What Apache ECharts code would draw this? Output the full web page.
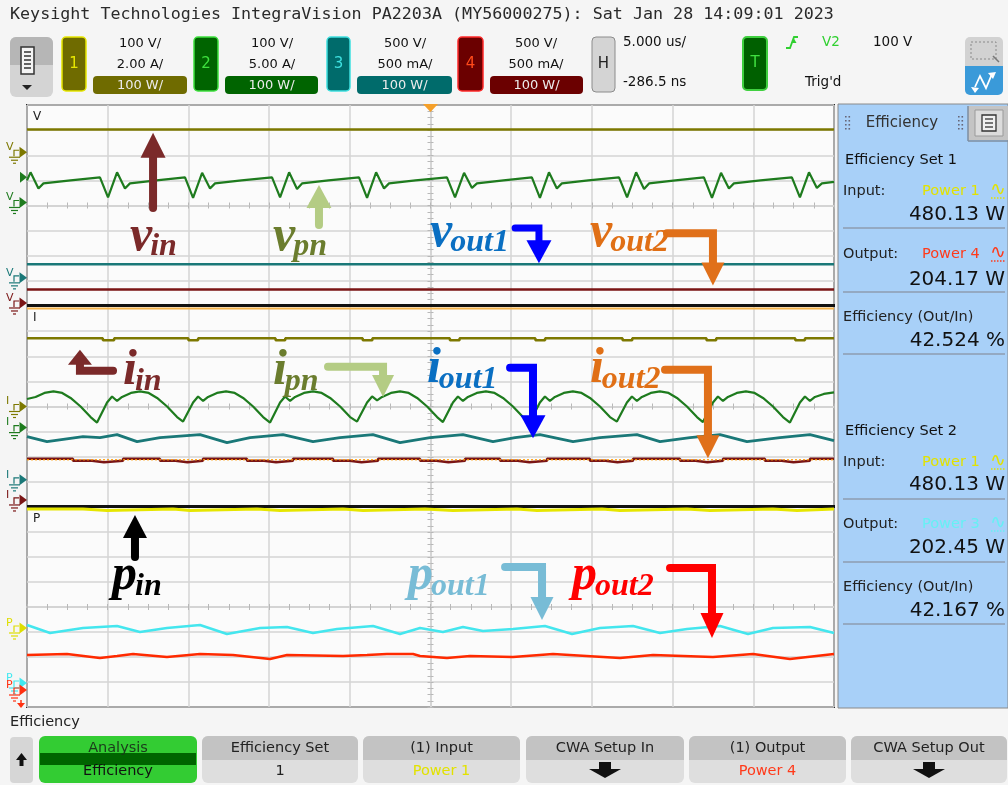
<!DOCTYPE html>
<html><head><meta charset="utf-8"><title>Efficiency</title>
<script src="https://cdn.jsdelivr.net/npm/echarts@6.0.0/dist/echarts.min.js"></script>
<style>html,body{margin:0;padding:0;background:#f5f5f5;overflow:hidden}#c{width:1008px;height:785px}</style>
</head><body><div id="c"></div>
<script>
// ---------------- DATA (time in µs over 10 div of 5 µs; amplitude in screen divisions) ----------------
const vinV  = [[0,3.02],[50,3.02]];
const vpnV  = [[0,1.0],[0.22,1.32],[0.71,0.68],[1.02,0.88],[2.7,1.0],
 [4.52,1.12],[5.02,0.32],[5.58,1.32],[6.07,0.68],[6.38,0.88],[8.02,1.0],
 [9.79,1.12],[10.29,0.3],[10.85,1.3],[11.34,0.68],[11.65,0.88],[13.29,1.0],
 [15.18,1.12],[15.68,0.32],[16.24,1.32],[16.73,0.66],[17.04,0.88],[18.68,1.0],
 [20.57,1.12],[21.07,0.3],[21.63,1.32],[22.12,0.68],[22.43,0.88],[24.07,1.0],
 [26.02,1.12],[26.52,0.32],[27.08,1.3],[27.57,0.7],[27.88,0.88],[29.52,1.0],
 [31.28,1.12],[31.78,0.3],[32.34,1.32],[32.83,0.68],[33.14,0.88],[34.78,1.0],
 [36.68,1.12],[37.18,0.32],[37.74,1.32],[38.23,0.66],[38.54,0.88],[40.18,1.0],
 [41.94,1.12],[42.44,0.3],[43.0,1.3],[43.49,0.68],[43.8,0.88],[45.44,1.0],
 [47.39,1.12],[47.89,0.32],[48.45,1.32],[48.94,0.7],[49.25,0.88],[50,0.94]];
const vout1V = [[0,-2.34],[50,-2.34]];
const vout2V = [[0,-3.34],[50,-3.34]];

const iTopI = [[0,3.9],[50,3.9]];
const iinI  = [[0,2.72],[4.7,2.64],[5.4,2.72],[10.0,2.64],[10.6,2.72],[15.4,2.64],[16.0,2.72],[20.8,2.64],[21.4,2.72],
 [26.2,2.64],[26.8,2.72],[31.5,2.64],[32.1,2.72],[36.9,2.64],[37.5,2.72],[42.1,2.64],[42.7,2.72],[47.6,2.64],[48.2,2.72],[50,2.72]];
const ipnI  = [[0,0.3],[0.53,0.38],[1.08,0.54],[1.64,0.6],[2.18,0.54],[2.7,0.34],[3.32,0.0],[3.94,-0.42],
 [4.34,-0.64],[4.96,0.16],[5.27,0.4],[5.58,0.22],[5.89,0.38],[6.44,0.54],[7.0,0.6],[7.54,0.54],[8.06,0.34],[8.68,0.0],[9.3,-0.42],
 [9.67,-0.6],[10.29,0.16],[10.6,0.4],[10.91,0.22],[11.22,0.38],[11.77,0.54],[12.33,0.6],[12.87,0.54],[13.39,0.34],[14.01,0.0],[14.63,-0.42],
 [15.06,-0.64],[15.68,0.16],[15.99,0.4],[16.3,0.22],[16.61,0.38],[17.16,0.54],[17.72,0.6],[18.26,0.54],[18.78,0.34],[19.4,0.0],[20.02,-0.42],
 [20.45,-0.6],[21.07,0.16],[21.38,0.4],[21.69,0.24],[22.0,0.38],[22.55,0.54],[23.11,0.6],[23.65,0.54],[24.17,0.34],[24.79,0.0],[25.41,-0.42],
 [25.77,-0.62],[26.39,0.16],[26.7,0.4],[27.01,0.22],[27.32,0.38],[27.87,0.54],[28.43,0.6],[28.97,0.54],[29.49,0.34],[30.11,0.0],[30.73,-0.42],
 [31.16,-0.62],[31.78,0.16],[32.09,0.4],[32.4,0.22],[32.71,0.38],[33.26,0.54],[33.82,0.6],[34.36,0.54],[34.88,0.34],[35.5,0.0],[36.12,-0.42],
 [36.55,-0.6],[37.17,0.16],[37.48,0.4],[37.79,0.22],[38.1,0.38],[38.65,0.54],[39.21,0.6],[39.75,0.54],[40.27,0.34],[40.89,0.0],[41.51,-0.42],
 [41.88,-0.62],[42.5,0.16],[42.81,0.4],[43.12,0.22],[43.43,0.38],[43.98,0.54],[44.54,0.6],[45.08,0.54],[45.6,0.34],[46.22,0.0],[46.84,-0.42],
 [47.27,-0.64],[47.89,0.16],[48.2,0.4],[48.51,0.22],[48.82,0.38],[49.37,0.5],[50,0.56]];
const iout1I = [[0,-1.2],[1.24,-1.4],[3.47,-1.2],[4.52,-1.24],[5.58,-1.12],[6.82,-1.4],[8.24,-1.24],[10.72,-1.12],[12.39,-1.44],
 [13.82,-1.24],[15.86,-1.12],[17.72,-1.4],[19.39,-1.24],[21.43,-1.12],[23.11,-1.44],[24.97,-1.24],[27.01,-1.12],[28.87,-1.4],
 [30.24,-1.24],[31.78,-1.12],[33.83,-1.4],[35.5,-1.24],[37.79,-1.12],[39.22,-1.4],[41.08,-1.24],[42.94,-1.12],[44.61,-1.4],
 [46.65,-1.24],[48.51,-1.12],[50,-1.36]];
const iout2I = [[0,-2.08],[2.85,-2.16],[4.03,-2.22],[4.77,-2.16],[5.95,-2.08],[8.24,-2.16],[9.2,-2.22],[9.94,-2.16],[10.9,-2.08],
 [13.63,-2.16],[14.69,-2.22],[15.43,-2.16],[16.48,-2.08],[18.96,-2.16],[19.98,-2.22],[20.72,-2.16],[21.75,-2.08],
 [24.35,-2.16],[25.37,-2.22],[26.11,-2.16],[27.14,-2.08],[29.31,-2.16],[30.39,-2.22],[31.13,-2.16],[32.22,-2.08],
 [34.88,-2.16],[35.84,-2.22],[36.58,-2.16],[37.55,-2.08],[40.46,-2.16],[41.42,-2.22],[42.16,-2.16],[43.12,-2.08],
 [45.72,-2.16],[46.75,-2.22],[47.49,-2.16],[48.51,-2.08],[50,-2.08]];
const iMathI = [[0,-2.12],[50,-2.12]];

const pinP  = [[0,3.92],[3.47,3.86],[4.96,3.92],[9.05,3.86],[10.1,3.92],[14.25,3.86],[15.68,3.92],[19.58,3.86],[20.82,3.92],
 [24.66,3.86],[26.39,3.92],[30.36,3.86],[31.6,3.92],[35.63,3.86],[36.74,3.92],[40.89,3.86],[42.32,3.92],[46.22,3.86],[47.71,3.92],[50,3.92]];
const pout1P = [[0,-0.72],[1.43,-1.04],[3.47,-0.84],[5.58,-0.76],[7.0,-1.0],[8.67,-0.84],[10.72,-0.72],[12.39,-1.08],[14.44,-0.84],
 [16.11,-0.8],[17.72,-1.04],[19.21,-0.88],[21.44,-0.76],[23.11,-1.08],[24.35,-0.84],[25.77,-1.0],[27.01,-0.8],[28.25,-0.96],
 [30.11,-0.88],[32.09,-0.76],[33.77,-1.08],[35.5,-0.84],[37.55,-0.76],[39.22,-1.04],[40.89,-0.88],[42.94,-0.76],[44.67,-1.08],
 [46.22,-0.84],[48.51,-0.8],[50,-1.04]];
const pout2P = [[0,-1.92],[2.48,-1.88],[4.52,-2.04],[5.58,-1.96],[6.57,-1.88],[8.67,-2.0],[10.72,-1.88],[12.76,-1.92],[15.06,-2.08],
 [16.11,-1.92],[19.58,-1.96],[21.07,-1.92],[22.3,-1.88],[23.92,-1.88],[24.35,-1.96],[26.02,-2.04],[27.45,-1.96],[30.11,-2.0],
 [32.59,-1.88],[36.74,-2.04],[38.79,-1.92],[42.5,-2.0],[44.98,-1.88],[47.27,-2.08],[50,-1.88]];

const panelNames = ['V','I','P'];
// annotation anchors (data coords: µs, div)
const annoLabels = [
 {g:0,x:6.38,y:-1.66,main:'v',sub:'in',color:'#7b2a2a'},
 {g:0,x:15.24,y:-1.66,main:'v',sub:'pn',color:'#6b7d2e'},
 {g:0,x:24.97,y:-1.5,main:'v',sub:'out1',color:'#0a6fc2'},
 {g:0,x:34.88,y:-1.5,main:'v',sub:'out2',color:'#e06f15'},
 {g:1,x:5.95,y:0.98,main:'i',sub:'in',color:'#7b2a2a'},
 {g:1,x:15.24,y:0.98,main:'i',sub:'pn',color:'#6b7d2e'},
 {g:1,x:24.78,y:1.06,main:'i',sub:'out1',color:'#0a6fc2'},
 {g:1,x:34.88,y:1.06,main:'i',sub:'out2',color:'#e06f15'},
 {g:2,x:5.27,y:0.8,main:'p',sub:'in',color:'#000000'},
 {g:2,x:23.61,y:0.8,main:'p',sub:'out1',color:'#78bcd6'},
 {g:2,x:33.77,y:0.8,main:'p',sub:'out2',color:'#ff0000'}];
const annoArrows = [
 {g:0,pts:[[7.81,-0.1],[7.81,2.9]],color:'#7b2a2a',w:8,hl:25,hw:25},
 {g:0,pts:[[18.09,-0.78],[18.09,0.82]],color:'#b4cc84',w:8,hl:23,hw:25},
 {g:0,pts:[[30.24,-0.9],[31.72,-0.9],[31.72,-2.3]],color:'#0000ff',w:7,hl:23,hw:25},
 {g:0,pts:[[39.65,-1.1],[42.5,-1.1],[42.5,-3.18]],color:'#e0701a',w:8,hl:23,hw:23},
 {g:1,pts:[[5.33,1.42],[3.28,1.42],[3.28,2.26]],color:'#7b2a2a',w:8,hl:15,hw:24},
 {g:1,pts:[[18.65,1.58],[22.06,1.58],[22.06,0.38]],color:'#b4cc84',w:8,hl:22,hw:22},
 {g:1,pts:[[29.93,1.54],[31.35,1.54],[31.35,-1.26]],color:'#0000ff',w:8,hl:23,hw:25},
 {g:1,pts:[[39.53,1.46],[42.19,1.46],[42.19,-2.06]],color:'#e0701a',w:8,hl:23,hw:23},
 {g:2,pts:[[6.69,2.0],[6.69,3.68]],color:'#000000',w:8,hl:23,hw:24},
 {g:2,pts:[[29.62,1.6],[31.91,1.6],[31.91,-0.52]],color:'#78bcd6',w:8,hl:23,hw:23},
 {g:2,pts:[[39.84,1.56],[42.44,1.56],[42.44,-1.24]],color:'#ff0000',w:8,hl:25,hw:23}];
// channel ground markers (div)
const chMarkers = [
 {g:0,y:2.12,L:'V',c:'#7d7800'},{g:0,y:0.12,L:'V',c:'#1e7b1e'},{g:0,y:-2.88,L:'V',c:'#1a7878'},{g:0,y:-3.88,L:'V',c:'#7a1515'},
 {g:1,y:0,L:'I',c:'#7d7800'},{g:1,y:-0.84,L:'I',c:'#1e7b1e'},{g:1,y:-2.92,L:'I',c:'#1a7878'},{g:1,y:-3.72,L:'I',c:'#7a1515'},
 {g:2,y:-0.84,L:'P',c:'#dede00'},{g:2,y:-3.04,L:'P',c:'#40e8f0'},{g:2,y:-3.32,L:'P',c:'#ff3010',down:true}];
const trigLevel = {g:0,y:1.12,c:'#1e7b1e'};

// ---------------- CHART ----------------
const chart = echarts.init(document.getElementById('c'), null, {width:1008,height:785});
const GL=27, GW=807, GT=[105,306,507], GH=[201,201,200];
const gl={color:'#d4d4d4',width:1.5}, tk={color:'#b8b8b8',width:1};
const grid=[], xAxis=[], yAxis=[];
for(let g=0;g<3;g++){
  grid.push({left:GL,width:GW,top:GT[g],height:GH[g],show:true,backgroundColor:'#fbfbfb',borderColor:'#2c2c2c',borderWidth:2});
  for(const pos of ['bottom','top']) xAxis.push({gridIndex:g,type:'value',min:0,max:50,interval:5,position:pos,
    axisLine:{show:true,onZero:true,onZeroAxisIndex:2*g,lineStyle:gl},
    axisTick:{show:true,length:3,lineStyle:tk},minorTick:{show:true,splitNumber:4,length:3,lineStyle:tk},
    axisLabel:{show:false},splitLine:{show:pos==='bottom',lineStyle:gl}});
  for(const pos of ['left','right']) yAxis.push({gridIndex:g,type:'value',min:-4,max:4,interval:1,position:pos,offset:-GW/2,
    axisLine:{show:true,onZero:false,lineStyle:gl},
    axisTick:{show:true,length:3,lineStyle:tk},minorTick:{show:true,splitNumber:4,length:3,lineStyle:tk},
    axisLabel:{show:false},splitLine:{show:pos==='left',lineStyle:gl}});
}
const S=(name,data,g,color,w,extra)=>Object.assign({name,type:'line',xAxisIndex:2*g,yAxisIndex:2*g,data,symbol:'none',showSymbol:false,
  silent:true,animation:false,lineStyle:{color,width:w},z:3},extra||{});
const series=[
 S('vin',vinV,0,'#7d7800',2.5), S('vout1',vout1V,0,'#1a7878',2.5), S('vout2',vout2V,0,'#7a1515',2.5), S('vpn',vpnV,0,'#1e7b1e',2.2),
 S('itop',iTopI,1,'#f3b24a',2), S('iin',iinI,1,'#7d7800',2.5,{step:'end'}), S('iout1',iout1I,1,'#1a7878',2.8),
 S('iout2',iout2I,1,'#7a1515',2.5,{step:'end'}), S('imath',iMathI,1,'#ff9a00',1.2,{lineStyle:{color:'#ff9a00',width:1.2,type:[2,2]}}),
 S('ipn',ipnI,1,'#1e7b1e',2.2),
 S('pin',pinP,2,'#e6e600',3,{step:'end'}), S('pout1',pout1P,2,'#44e6ee',2.5), S('pout2',pout2P,2,'#ff2a00',2.5)];
chart.setOption({animation:false,backgroundColor:'#f5f5f5',grid,xAxis,yAxis,series});

// ---------------- DECORATION / UI ----------------
const conv=(g,p)=>chart.convertToPixel({gridIndex:g},p);
const G=[];
const SANS='"DejaVu Sans",Verdana,sans-serif', MONO='"DejaVu Sans Mono",monospace', SERIF='"Liberation Serif","Times New Roman",serif';
function rect(x,y,w,h,fill,o){o=o||{};G.push({type:'rect',z:o.z||50,shape:{x,y,width:w,height:h,r:o.r||0},style:{fill,stroke:o.stroke||null,lineWidth:o.lw||0,lineDash:o.dash||null}});}
function txt(x,y,s,font,fill,align,va,z){align=align||'left';va=va||'middle';G.push({type:'text',z:z||60,style:{x,y,text:s,font,fill,align,verticalAlign:va,textAlign:align,textVerticalAlign:va}});}
function poly(points,fill,z){G.push({type:'polygon',z:z||55,shape:{points},style:{fill}});}
function pl(points,stroke,lw,z,extra){G.push({type:'polyline',z:z||55,shape:{points},style:Object.assign({stroke,lineWidth:lw,fill:null},extra||{})});}
function ln(x1,y1,x2,y2,stroke,lw,z,extra){G.push({type:'line',z:z||55,shape:{x1,y1,x2,y2},style:Object.assign({stroke,lineWidth:lw},extra||{})});}
const mctx=document.createElement('canvas').getContext('2d');
const tw=(s,f)=>{mctx.font=f;return mctx.measureText(s).width;};

// title
txt(10,15,'Keysight Technologies IntegraVision PA2203A (MY56000275): Sat Jan 28 14:09:01 2023','16.7px '+MONO,'#2a2a2a');
// menu button
rect(10,37,43,60,'#d4d4d4',{r:6});
rect(10,37,43,28,'#b6b6b6',{r:[6,6,0,0]});
rect(21,47,13,27,'#f4f4f4',{stroke:'#333',lw:1.5,z:51});
[52,56,60,64,68].forEach(y=>ln(24,y,31,y,'#333',1.5,52));
poly([[22,85],[32,85],[27,90]],'#222');
// channel boxes
const chans=[
 {x:62,w:24,fill:'#6f6b00',bd:'#e6e600',lc:'#e6e600',n:'1',cx:140,l1:'100 V/',l2:'2.00 A/',px:93,pw:94},
 {x:194,w:24,fill:'#006400',bd:'#3ee03e',lc:'#3ee03e',n:'2',cx:272,l1:'100 V/',l2:'5.00 A/',px:225,pw:93},
 {x:327,w:23,fill:'#006b6b',bd:'#3ee0e0',lc:'#3ee0e0',n:'3',cx:405,l1:'500 V/',l2:'500 mA/',px:357,pw:95},
 {x:458,w:25,fill:'#6b0000',bd:'#ff2a2a',lc:'#ff4a1a',n:'4',cx:536,l1:'500 V/',l2:'500 mA/',px:490,pw:93}];
chans.forEach(c=>{
  rect(c.x,37,c.w,54,c.fill,{r:4,stroke:c.bd,lw:1.5});
  txt(c.x+c.w/2,64,c.n,'15px '+SANS,c.lc,'center');
  txt(c.cx,44,c.l1,'13px '+SANS,'#111','center');
  txt(c.cx,65,c.l2,'13px '+SANS,'#111','center');
  rect(c.px,76,c.pw,18,c.fill,{r:4});
  txt(c.px+c.pw/2,85.5,'100 W/','13px '+SANS,'#ececec','center',null,61);
});
// horizontal
rect(592,37,23,55,'#d4d4d4',{r:4,stroke:'#8c8c8c',lw:1});
txt(603.5,64,'H','15px '+SANS,'#222','center');
txt(623,42,'5.000 us/','13.5px '+SANS,'#111');
txt(623,82,'-286.5 ns','13.5px '+SANS,'#111');
// trigger
rect(743,37,24,53,'#006000',{r:4,stroke:'#40d040',lw:2});
txt(755,63,'T','15px '+SANS,'#40e040','center');
pl([[786,48],[790,48],[794,37],[798,37]],'#30d030',1.8,56);
poly([[791.5,43],[796.5,43],[794,38.5]],'#30d030');
txt(822,42,'V2','13.5px '+SANS,'#30d030');
txt(873,42,'100 V','13.5px '+SANS,'#111');
txt(805,82,"Trig'd",'13.5px '+SANS,'#111');
// right icons
rect(965,37,38,29,'#d2d2d2',{r:[5,5,0,0]});
rect(971,42,25,17,null,{stroke:'#8a8a8a',lw:1,dash:[2,2],z:51});
ln(993,56,999,62,'#777',1.5,52);
rect(965,66,38,29,'#3a9ad9',{r:[0,0,5,5]});
pl([[975,87],[980,76],[986,88],[992,74]],'#ffffff',1.8,56);
poly([[988,73],[996,72],[993,79]],'#ffffff',56);
poly([[975,93],[971,87],[979,88]],'#ffffff',56);

// plot frame extras
poly([[423,104],[438,104],[430.5,112]],'#f5a02a',70);
panelNames.forEach((n,g)=>txt(33,GT[g]+12,n,'12px '+SANS,'#222'));
[0,1].forEach(g=>{const yb=conv(g,[0,-4])[1]; ln(27,yb-0.5,835,yb-0.5,'#111',3,1);});
// channel markers
chMarkers.forEach(m=>{
  const y=conv(m.g,[0,m.y])[1];
  txt(6,y-5,m.L,'11px '+SANS,m.c,'left','middle',61);
  pl([[14,y+4],[14,y-2],[19,y-2]],m.c,1.2,56);
  poly([[19.5,y-5.5],[27,y],[19.5,y+5.5]],m.c);
  ln(9,y+5,20,y+5,m.c,1.2); ln(11,y+8,18,y+8,m.c,1.2); ln(13,y+11,16,y+11,m.c,1.2);
  if(m.down){ ln(21,y+10,21,y+14,m.c,1.5); poly([[17,y+13],[25,y+13],[21,y+18]],m.c); }
});
{const y=conv(trigLevel.g,[0,trigLevel.y])[1]; poly([[20,y-5.5],[27,y],[20,y+5.5]],trigLevel.c);}

// annotations: arrows
annoArrows.forEach(a=>{
  const P=a.pts.map(p=>conv(a.g,p));
  const tip=P[P.length-1], prev=P[P.length-2];
  let dx=tip[0]-prev[0], dy=tip[1]-prev[1]; const L=Math.hypot(dx,dy); dx/=L; dy/=L;
  const base=[tip[0]-dx*a.hl, tip[1]-dy*a.hl];
  const shaft=P.slice(0,P.length-1).concat([[base[0]+dx*2,base[1]+dy*2]]);
  pl(shaft,a.color,a.w,80,{lineJoin:'miter',lineCap:'round'});
  const nx=-dy, ny=dx, h=a.hw/2;
  poly([tip,[base[0]+nx*h,base[1]+ny*h],[base[0]-nx*h,base[1]-ny*h]],a.color,80);
});
// annotations: labels
annoLabels.forEach(a=>{
  const [px,py]=conv(a.g,[a.x,a.y]);
  const f1='italic bold 50px '+SERIF, f2='italic bold 32px '+SERIF;
  txt(px,py-10.5,a.main,f1,a.color,'left','middle',85);
  const w=tw(a.main,f1);
  txt(px+w-2,py+5-5,a.sub,f2,a.color,'left','middle',85);
});

// side panel
rect(838,104,170,604,'#a8d0f8',{stroke:'#8a8a8a',lw:1});
rect(968,106,40,34,'#c4c4c4');
rect(975,110,28,26,'#dcdcdc',{stroke:'#9a9a9a',lw:1,z:51});
rect(982,115,14,16,'#f0f0f0',{stroke:'#333',lw:1.3,z:52});
[119,123,127].forEach(y=>ln(985,y,993,y,'#333',1.3,53));
ln(968,106,968,141,'#7e8ea0',1.5,52);
ln(968,141,1008,141,'#7e8ea0',1.5,52);
[[845,0],[958,0]].forEach(([x])=>{[117,121,125,129].forEach(y=>{rect(x,y-1,1.6,1.6,'#667',{z:53});rect(x+3.5,y-1,1.6,1.6,'#667',{z:53});});});
txt(902,123,'Efficiency','15px '+SANS,'#333','center');
const F1='14.5px '+SANS, FV='20px '+SANS;
function wave(x,y,c){txt(x,y-1,'∿','19px '+SANS,c,'center',null,61);ln(x-7,y+7,x+8,y+7,c,1.3,61,{lineDash:[1.5,1.5]});}
function sep(y){ln(843,y,1005,y,'#8e9db0',1.5,56);}
const sets=[
 {y0:160,title:'Efficiency Set 1',inY:191,inV:'480.13 W',inVY:215,s1:228,outY:254,outL:'Power 4',outC:'#ff3a1a',outV:'204.17 W',outVY:280,s2:292,effY:317,eff:'42.524 %',effVY:341,s3:354},
 {y0:431,title:'Efficiency Set 2',inY:462,inV:'480.13 W',inVY:485,s1:499,outY:524,outL:'Power 3',outC:'#66f0f4',outV:'202.45 W',outVY:548,s2:562,effY:587,eff:'42.167 %',effVY:611,s3:624}];
sets.forEach(s=>{
  txt(845,s.y0,s.title,F1,'#111');
  txt(843,s.inY,'Input:',F1,'#222'); txt(922,s.inY,'Power 1',F1,'#e2e200'); wave(998,s.inY,'#e2e200');
  txt(1005,s.inVY,s.inV,FV,'#111','right'); sep(s.s1);
  txt(843,s.outY,'Output:',F1,'#222'); txt(922,s.outY,s.outL,F1,s.outC); wave(998,s.outY,s.outC);
  txt(1005,s.outVY,s.outV,FV,'#111','right'); sep(s.s2);
  txt(843,s.effY,'Efficiency (Out/In)',F1,'#222');
  txt(1005,s.effVY,s.eff,FV,'#111','right'); sep(s.s3);
});

// bottom soft keys
txt(10,722,'Efficiency',F1,'#222');
rect(10,737,23,46,'#d6d6d6',{r:4});
poly([[16,760],[27,760],[21.5,753]],'#111'); rect(19.5,759,4,7,'#111',{z:56});
rect(39,736,158,47,'#33cc33',{r:6});
rect(40,753,156,12,'#006400',{z:51});
txt(118,748,'Analysis',F1,'#1b3a1b','center');
txt(118,771,'Efficiency',F1,'#111','center');
const keys=[
 {x:202,w:156,t:'Efficiency Set',b:'1',bc:'#222'},
 {x:363,w:157,t:'(1) Input',b:'Power 1',bc:'#e2e200'},
 {x:526,w:158,t:'CWA Setup In',arrow:true},
 {x:689,w:157,t:'(1) Output',b:'Power 4',bc:'#ff3a1a'},
 {x:851,w:156,t:'CWA Setup Out',arrow:true}];
keys.forEach(k=>{
  rect(k.x,736,k.w,47,'#dedede',{r:6});
  rect(k.x,736,k.w,24,'#c3c3c3',{r:[6,6,0,0],z:51});
  const cx=k.x+k.w/2;
  txt(cx,748,k.t,F1,'#222','center');
  if(k.arrow){ rect(cx-6,762,12,8,'#111',{z:56}); poly([[cx-16,769],[cx+16,769],[cx,778]],'#111'); }
  else txt(cx,771,k.b,F1,k.bc,'center');
});

chart.setOption({graphic:G});
</script></body></html>
